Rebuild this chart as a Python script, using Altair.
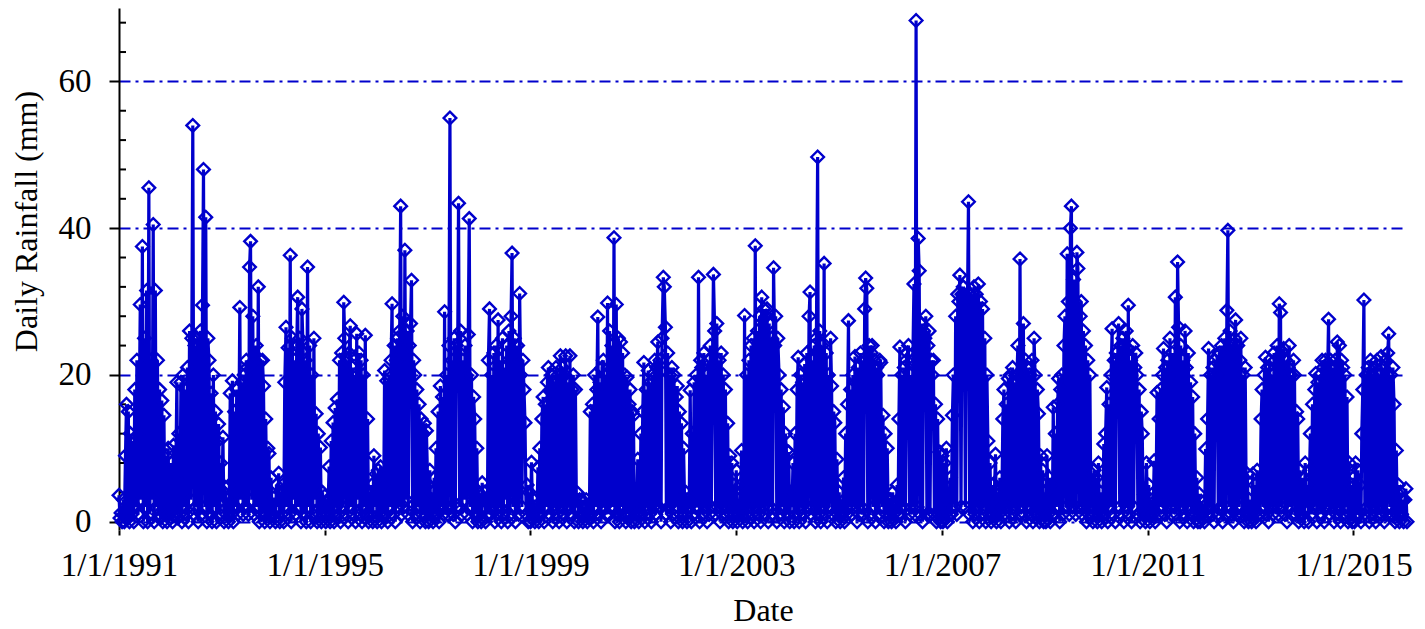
import altair as alt
import pandas as pd

# Daily rainfall (mm) at ~4 samples per month (days 1, 8, 16, 23)
rain_1991 = [3.6,0.5,1.2,0, 3,0,9,16, 0.5,15,0,12, 1,11,0,18, 2,22,1,12, 29.6,3,37.5,0, 25,2,31.5,0, 45.5,1,22,3, 40.5,0,31.5,2, 22,1,18,0.5, 16.5,0,14.5,1, 9,0,10,1]
rain_1992 = [2,8,0,10.4, 1,6,19,0.5, 12,1,19,0, 20,2,18,1, 21,0,26,3, 25,54,1,24, 2,25,0,23, 26,1,29.5,48, 2,41.5,0,25, 22,1,17.5,0, 20,2,15,0, 11,13.3,1,8]
rain_1993 = [3,11.5,0,4.7, 1,3,0,5, 17.5,1,19.2,0, 15,2,18,1, 12,29.2,3,19, 1,20,2,22, 21,1,34.7,38.2, 3,28,1,22, 24,2,32,0, 22,1,22,18.5, 0,14,1,10, 9.3,0,6,1]
rain_1994 = [1,3.3,0,5, 2,6.6,0,4, 1,5,0,19, 26.5,2,23.7,1, 36.3,0,25,3, 22,1,24,30.6, 2,25,0,29, 23,1,22,0, 34.7,2,24,0, 20,1,25,3, 14.7,0,12,1, 10.1,0,4,1]
rain_1995 = [3.5,0,2.6,1, 7.5,0,11,1, 13.5,0,15.5,2, 16.7,1,22,0, 23,2,29.9,25, 1,22,0,23, 26.7,2,21,1, 20,0,25.6,3, 23,1,22,0, 20,2,25.4,1, 14,0,4,1, 5,0,9.0,2]
rain_1996 = [6.5,0,7,1, 7.5,0,5,1, 20.6,1,19.2,0, 20,2,22,29.7, 1,24,0,22, 25,2,26,43, 1,28,2,37, 3,26,1,24, 27,32.9,0,22, 20,1,18,2, 16,0,14,1, 12,13.4,0,12.4]
rain_1997 = [5,0,7,1, 4,0,6,1, 10,1,15,0, 18.5,2,17,1, 28.6,2,20,1, 24,55,2,22, 1,25,0,24, 20,43.4,2,26, 1,22,3,24, 20,1,25.5,41.3, 2,20,0,17, 14,1,10,0]
rain_1998 = [1,3.8,0,5.3, 2,4,0,3, 1,22,29,1, 20,2,23,0, 24,1,27.5,2, 22,0,25,1, 21,3,24,0, 26,1,28,36.6, 2,25,0,22, 24,1,31.1,20, 2,22,18,13.5, 1,5,0,4]
rain_1999 = [0,8.1,1,3, 0,2,1,7.4, 0,10,1,14, 17,0,16,2, 19,21,1,18, 20,0,19,2, 21,1,20,0, 22.6,2,21,1, 20,22.6,0,19, 2,22.6,1,18, 20,0,18,2, 3.9,0,3,1]
rain_2000 = [3,0,2,1, 3,0,1,0.5, 15,1,16,0, 20,2,18,27.9, 1,19,0,21, 22,2,20,1, 29.8,1,26,2, 24,2,38.7,0, 29.6,1,25,0, 24.5,2,23,1, 20,0,19.7,1, 16,18,0,15]
rain_2001 = [14.5,0,2,1, 8.5,0,1,12, 1,15,21.7,0, 18,2,20.6,1, 19,0,20,2, 22,1,21,24.5, 2,22,0,25, 33.3,32,26.5,1, 23,2,20,0, 21,1,20,2, 17,18.5,0,15, 1,13.4,0,10]
rain_2002 = [1,4,0,3, 2,17.9,0,12, 1,19,2,20, 2,33.3,0,22, 21,1,23,2, 20,0,22,1, 24,2,21,33.7, 26,1,27,2, 22,0,23,1, 20,2,18,1, 13.4,0,9,1, 8,0,5,1]
rain_2003 = [7,0,3,1, 5,9.7,0,2, 28.1,1,20,0, 22,2,24,1, 25,0,37.6,2, 26,1,28,0, 30.6,2,29,1, 28,29,0,27, 2,25,1,34.6, 24,28,0,25, 20,1,18,2, 15.6,0,12,9.7]
rain_2004 = [1,9.5,0,4, 2,8,0,12, 1,18,22.4,0, 20,2,19,1, 21.5,0,23,2, 28,31.3,1,22, 2,24,0,25, 49.7,1,26,0, 24,2,35.2,1, 23,0,20,2, 25,18.5,1,15, 13.5,0,8.5,1]
rain_2005 = [4,0,2,1, 6,0,12,1, 16,27.4,2,18, 1,20,2,22.5, 19,0,21,1, 23,2,22,1, 29,33.2,31.8,0, 24,1,23,24, 2,22,0,21, 20,1,22,21.7, 2,14.5,0,12, 1,10,0,3]
rain_2006 = [3,0,4,1, 2,0,5,1, 14,23.8,1,20, 2,21,0,22, 23,24,1,20, 2,22,32.4,1, 68.3,2,38.6,34.2, 1,27,0,26, 25,28,1,24, 26,1,22,20, 22,1,16,0, 14,1,9.5,0]
rain_2007 = [9,0,8,1, 10,0,3,1, 6,1,14.5,20, 2,28,1,31, 30,33.6,2,31, 32,31,2,30, 30,43.6,1,31, 30,0,32,1, 31,2,32.4,0, 30,1,29,2, 25,0,20,11, 1,8,0,5]
rain_2008 = [1,4,9.2,0, 3,1,6,0, 2,14,18,1, 16,2,19.5,0, 20,1,21,2, 19,0,20,24, 1,35.8,2,20, 27,1,22,0, 21,2,20,1, 22,0,25,20, 1,18,14.7,0, 9,1,7,0]
rain_2009 = [4,0,9,1, 6,0,5,1, 15.6,1,12,2, 16,19.5,0,18, 20,1,24,28, 2,36.5,30,1, 40,43,2,33, 30,1,36.7,34.5, 2,28,30,1, 26,2,24,0, 22,1,20,2, 6.5,0,7,1]
rain_2010 = [6,0,8,1, 4,0,2,10.6, 1,12,18.3,0, 16,2,20,26.3, 1,22,0,23, 22,27,2,24, 1,25,0,24, 26,2,29.5,1, 22,0,24,2, 21,23,20,1, 18,0,15,12, 1,3.7,0,8]
rain_2011 = [1,5,0,3, 2,1,8.3,0, 3,17.6,1,14, 18,2,20,23.6, 1,21,0,22, 2,25,1,23, 20,2,30.6,1, 35.4,26.5,0,24, 2,22,1,26, 21,0,23,2, 19,1,17,0, 12,1,6,0]
rain_2012 = [3.8,0,2.8,1, 2,0,9.9,1, 14,23.6,2,20, 1,21,0,22, 20,22.5,1,23, 2,24,0,22, 25,1,28.8,39.7, 2,26,1,24, 0,25,27.5,1, 24,2,22,25, 1,20,0,21, 1,6.5,0,3]
rain_2013 = [1,0,6.5,1, 5,0,7,1, 4,1,14,18, 2,20,22.4,1, 21,0,22,2, 20,1,23,22, 2,24,1,29.7, 28.5,2,23,23.6, 1,22,0,21, 24,2,20,1, 22,20,1,15, 14,0,7,1]
rain_2014 = [1,6,0,8, 2,5,0,7, 12,1,16,2, 18,20.2,0,19, 2,20,1,22, 21,0,22,2, 20,27.6,1,22, 2,21,0,22, 1,24.5,2,24, 0,22,21,1, 20,2,17,0, 8,1,5,0]
rain_2015 = [6,0,8,1, 7,1,5,0, 12,18,30.2,1, 20,2,21,0, 22,1,20,2, 21,0,22,1, 20,2,22.5,1, 21,0,22,1, 23,25.6,2,20, 1,21,16,0, 9.7,1,5,0, 4,1,3,0]
rain_2016 = [3, 4.5, 0]

years = list(range(1991, 2017))
series = [rain_1991, rain_1992, rain_1993, rain_1994, rain_1995, rain_1996, rain_1997,
          rain_1998, rain_1999, rain_2000, rain_2001, rain_2002, rain_2003, rain_2004,
          rain_2005, rain_2006, rain_2007, rain_2008, rain_2009, rain_2010, rain_2011,
          rain_2012, rain_2013, rain_2014, rain_2015, rain_2016]
slot_days = [1, 8, 16, 23]

rows = []
for yr, vals in zip(years, series):
    for k, v in enumerate(vals):
        rows.append({"date": f"{yr}-{k // 4 + 1:02d}-{slot_days[k % 4]:02d}", "rain": v})
df = pd.DataFrame(rows)

y_tick_values = [0, 20, 40, 60]
y_minor_values = [4, 8, 12, 16, 24, 28, 32, 36, 44, 48, 52, 56, 64, 68]
x_tick_years = [1991, 1995, 1999, 2003, 2007, 2011, 2015]

BLUE = "#0000CC"
FONT = "Liberation Serif"

x_scale = alt.Scale(type="utc", domain=[alt.DateTime(year=1991, month=1, date=1, utc=True),
                                        alt.DateTime(year=2016, month=1, date=16, utc=True)])
y_scale = alt.Scale(domain=[-1.13, 70], nice=False, zero=False)

x_axis = alt.Axis(values=[alt.DateTime(year=y, month=1, date=1, utc=True) for y in x_tick_years],
                  format="%-m/%-d/%Y", domain=False, grid=False,
                  tickSize=5, tickWidth=2, tickColor="black",
                  labelPadding=14, labelFontSize=33, labelFlush=False, labelOverlap=False,
                  titleFontSize=32, titleY=90, titleBaseline="alphabetic")
y_axis = alt.Axis(values=y_tick_values, grid=True, gridColor=BLUE, gridDash=[11, 5, 3, 5],
                  gridWidth=2, domainColor="black", domainWidth=2,
                  tickSize=10, tickWidth=2, tickColor="black",
                  labelPadding=18, labelFontSize=33, labelFlush=False,
                  titleFontSize=32, titleX=-83, titleY=213, titleAngle=270,
                  titleAlign="center", titleBaseline="alphabetic")

x_enc = alt.X("date:T", title="Date", scale=x_scale, axis=x_axis)
y_enc = alt.Y("rain:Q", title="Daily Rainfall (mm)", scale=y_scale, axis=y_axis)

minor_df = pd.DataFrame({"rain": y_minor_values})
minor = alt.Chart(minor_df).mark_rule(color="black", strokeWidth=2).encode(
    y=y_enc, x=alt.value(0), x2=alt.value(7))

line = alt.Chart(df).mark_line(color=BLUE, strokeWidth=3.2).encode(x=x_enc, y=y_enc)
points = alt.Chart(df).mark_point(shape="diamond", filled=False, size=160, strokeWidth=2.4,
                                  color=BLUE, opacity=1).encode(x=x_enc, y=y_enc)

chart = alt.layer(minor, line, points).properties(
    width=1288, height=522,
    padding={"left": 111, "top": 0, "right": 10, "bottom": 98},
    autosize=alt.AutoSizeParams(type="none"),
).configure_view(strokeWidth=0).configure_axis(
    labelFont=FONT, titleFont=FONT, labelColor="black", titleColor="black",
    titleFontWeight="normal")

chart.save("out.html", embed_options={"renderer": "svg", "actions": False})
